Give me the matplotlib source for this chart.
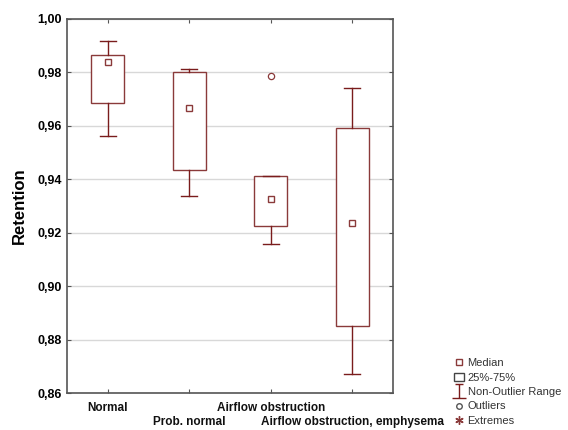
import matplotlib
matplotlib.use("Agg")
from matplotlib import pyplot as plt
from matplotlib.lines import Line2D
from matplotlib.patches import Patch
from matplotlib.path import Path
from matplotlib.ticker import FuncFormatter
from matplotlib.transforms import blended_transform_factory

# box plot data
groups = ["Normal", "Prob. normal", "Airflow obstruction", "Airflow obstruction, emphysema"]
medians = [0.9838, 0.9666, 0.9327, 0.9235]
q1 = [0.9686, 0.9435, 0.9224, 0.8852]
q3 = [0.9865, 0.9803, 0.9411, 0.9591]
whislo = [0.9562, 0.9339, 0.9159, 0.8672]
whishi = [0.9917, 0.9813, 0.9411, 0.9741]
outliers = [[], [], [0.9786], []]
yticks = [0.86, 0.88, 0.90, 0.92, 0.94, 0.96, 0.98, 1.00]

dark = "#7a1c1c"
box_col = "#8a3a3a"
lab_font = ["Liberation Sans Narrow", "Liberation Sans", "DejaVu Sans"]

stats = []
for i in range(len(groups)):
    stats.append({"med": medians[i], "q1": q1[i], "q3": q3[i],
                  "whislo": whislo[i], "whishi": whishi[i], "fliers": outliers[i]})

fig = plt.figure(figsize=(5.68, 4.30), dpi=100)
ax = fig.add_axes([0.118, 0.086, 0.574, 0.870])

ax.bxp(stats, positions=range(1, len(groups) + 1), widths=0.4, capwidths=0.2,
       patch_artist=True, showfliers=True,
       boxprops=dict(facecolor="white", edgecolor=box_col, linewidth=1.0),
       whiskerprops=dict(color=dark, linewidth=1.0),
       capprops=dict(color=dark, linewidth=1.0),
       medianprops=dict(linewidth=0),
       flierprops=dict(marker="o", markersize=4.5, markerfacecolor="white",
                       markeredgecolor=box_col, markeredgewidth=0.9),
       zorder=3)
ax.plot(range(1, len(groups) + 1), medians, linestyle="none", marker="s", markersize=5,
        markerfacecolor="white", markeredgecolor=box_col, markeredgewidth=1.0, zorder=4)

ax.set_xlim(0.5, 4.5)
ax.set_ylim(0.86, 1.00)
ax.set_yticks(yticks)
ax.yaxis.set_major_formatter(FuncFormatter(lambda v, p: f"{v:.2f}".replace(".", ",")))
ax.set_xticks(range(1, len(groups) + 1))
ax.set_xticklabels(["", "", "", ""])

# staggered category labels
trans = blended_transform_factory(ax.transData, ax.transAxes)
for i, g in enumerate(groups):
    off = -0.040 if i % 2 == 0 else -0.078
    ax.text(i + 1, off, g, ha="center", va="center",
            fontsize=8.5, fontweight="bold", family=lab_font, color="#111111",
            transform=trans, clip_on=False)

ax.grid(axis="y", color="#d8d8d8", linewidth=1.0, zorder=0)
ax.set_axisbelow(True)
ax.tick_params(direction="in", length=3, top=True, right=True, color="#555555")
for lab in ax.get_yticklabels():
    lab.set_fontweight("bold")
    lab.set_fontsize(9)
    lab.set_family(lab_font)
for s in ax.spines.values():
    s.set_color("#555555")
    s.set_linewidth(1.2)

ax.set_ylabel("Retention", fontsize=12, fontweight="bold", family=["Liberation Sans", "DejaVu Sans"],
              labelpad=8)

# legend
ibeam = Path([(-0.6, 1), (0.6, 1), (0, 1), (0, -1), (-1, -1), (1, -1)],
             [Path.MOVETO, Path.LINETO, Path.MOVETO, Path.LINETO, Path.MOVETO, Path.LINETO])
handles = [
    Line2D([], [], linestyle="none", marker="s", markersize=4.5, markerfacecolor="white",
           markeredgecolor=box_col),
    Patch(facecolor="white", edgecolor="#444444"),
    Line2D([], [], linestyle="none", marker=ibeam, markersize=10, markeredgecolor=dark,
           markerfacecolor="none"),
    Line2D([], [], linestyle="none", marker="o", markersize=4, markerfacecolor="white",
           markeredgecolor="#555555"),
    Line2D([], [], linestyle="none", marker=(6, 2, 0), markersize=6, markeredgecolor=box_col),
]
labels = ["Median", "25%-75%", "Non-Outlier Range", "Outliers", "Extremes"]
fig.legend(handles, labels, loc="upper left", bbox_to_anchor=(0.79, 0.18),
           frameon=False, handlelength=0.9, handletextpad=0.3,
           labelspacing=0.40, borderpad=0, labelcolor="#333333",
           prop={"family": ["Liberation Sans", "DejaVu Sans"], "size": 8})

plt.savefig("out.png", dpi=100)
